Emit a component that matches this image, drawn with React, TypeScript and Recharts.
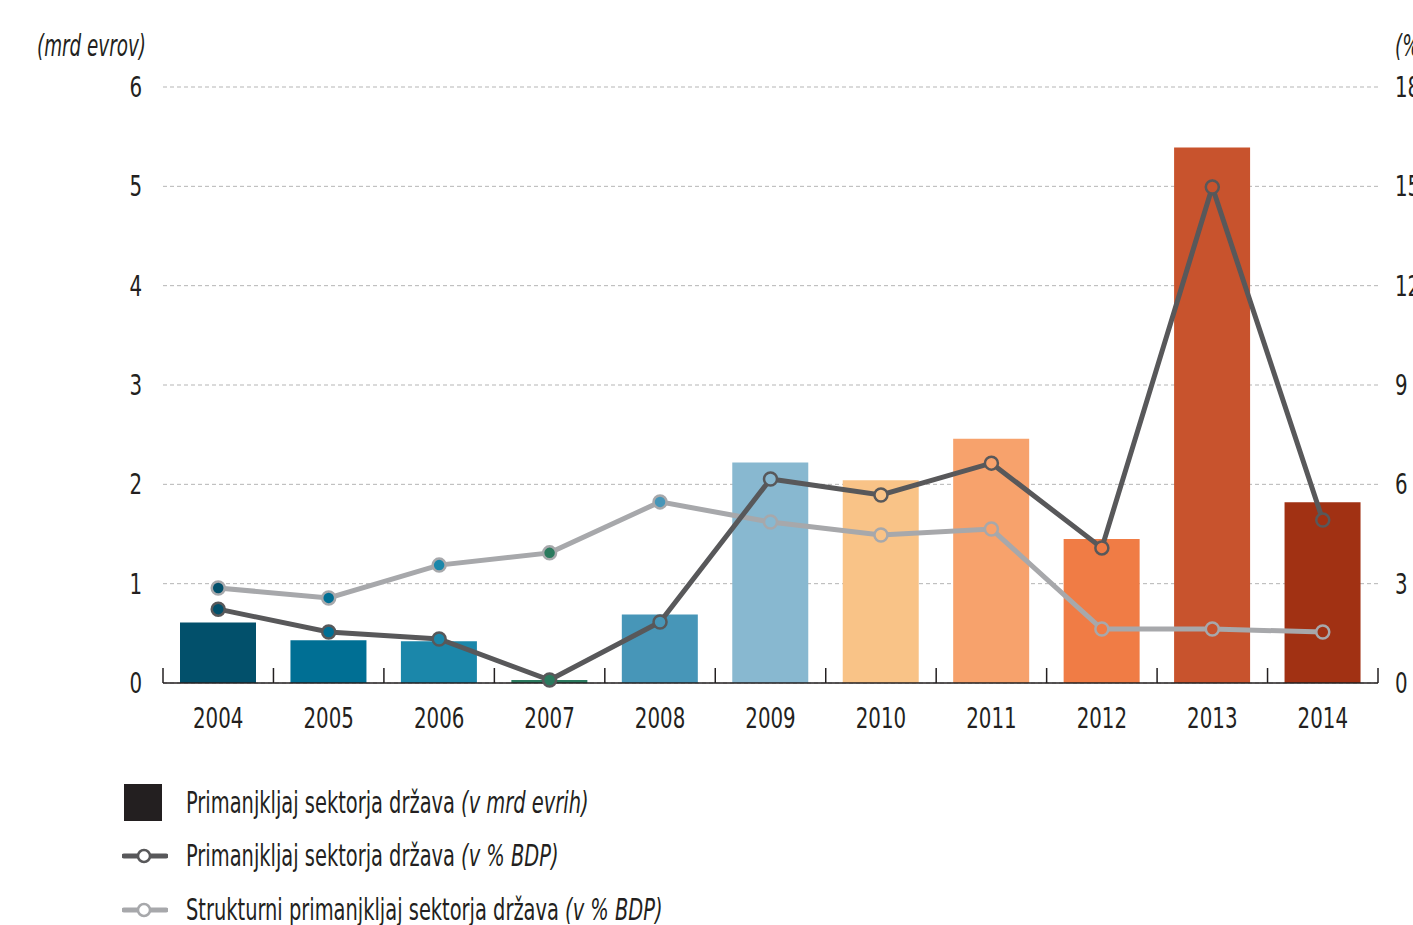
import React from "react";
import {
  ComposedChart,
  Bar,
  Line,
  XAxis,
  YAxis,
  CartesianGrid,
  Cell,
} from "recharts";

// values
const years = ["2004", "2005", "2006", "2007", "2008", "2009", "2010", "2011", "2012", "2013", "2014"];
const deficitBn = [0.61, 0.43, 0.42, 0.03, 0.69, 2.22, 2.04, 2.46, 1.45, 5.39, 1.82];
const deficitGdp = [2.23, 1.54, 1.33, 0.09, 1.84, 6.16, 5.68, 6.64, 4.08, 14.98, 4.92];
const structuralGdp = [2.87, 2.57, 3.56, 3.93, 5.47, 4.86, 4.47, 4.65, 1.63, 1.63, 1.54];
const barColors = [
  "#02506b", "#006f94", "#1b87aa", "#2b7a5e", "#4796b8", "#88b8d0",
  "#f9c387", "#f7a26c", "#f07c45", "#c8532d", "#a13113",
];
const leftTicks = [0, 1, 2, 3, 4, 5, 6];
const rightTicks = [0, 3, 6, 9, 12, 15, 18];

const data = years.map((year, i) => ({
  year,
  bn: deficitBn[i],
  gdp: deficitGdp[i],
  structural: structuralGdp[i],
}));

const FONT = "'Liberation Sans Narrow', 'DejaVu Sans Condensed', 'Open Sans', sans-serif";
const TEXT = "#231f20";
const DARK = "#58585a";
const LIGHT = "#a7a8ab";
const SQUEEZE = 0.76; // the reference uses a condensed face
const LEGEND_SQUEEZE = 0.72;

const CHART_W = 1440;
const LEFT_W = 163;
const RIGHT_W = 62;
const PLOT_W = CHART_W - LEFT_W - RIGHT_W;

// condensed svg text: scale horizontally around its anchor point
const NarrowText = ({ x, y, anchor, children }: any) => (
  <text
    transform={`translate(${x},${y}) scale(${SQUEEZE},1)`}
    textAnchor={anchor}
    fill={TEXT}
    fontSize={29}
    fontFamily={FONT}
  >
    {children}
  </text>
);

const YearTick = (props: any) => {
  const { x, y, payload, index } = props;
  const band = typeof props.width === "number" && props.width > 0 ? props.width / years.length : PLOT_W / years.length;
  return (
    <g>
      <line x1={x - band / 2} x2={x - band / 2} y1={y} y2={y - 15} stroke={TEXT} strokeWidth={1.5} />
      {index === years.length - 1 && (
        <line x1={x + band / 2} x2={x + band / 2} y1={y} y2={y - 15} stroke={TEXT} strokeWidth={1.5} />
      )}
      <NarrowText x={x} y={y + 45} anchor="middle">
        {payload.value}
      </NarrowText>
    </g>
  );
};

const LeftTick = (props: any) => (
  <NarrowText x={props.x} y={props.y + 10} anchor="end">
    {props.payload.value}
  </NarrowText>
);

const RightTick = (props: any) => (
  <NarrowText x={props.x} y={props.y + 10} anchor="start">
    {props.payload.value}
  </NarrowText>
);

const makeDot = (stroke: string) => (props: any) => {
  const { cx, cy, index } = props;
  return (
    <circle
      key={`dot-${stroke}-${index}`}
      cx={cx}
      cy={cy}
      r={6.5}
      fill={barColors[index]}
      stroke={stroke}
      strokeWidth={2.5}
    />
  );
};

const LegendIcon = ({ color }: { color: string }) => (
  <svg width={46} height={16} style={{ display: "block" }}>
    <line x1={2} x2={44} y1={8} y2={8} stroke={color} strokeWidth={5} strokeLinecap="round" />
    <circle cx={22} cy={8} r={6} fill="#fff" stroke={color} strokeWidth={2.5} />
  </svg>
);

const legendRow: React.CSSProperties = {
  position: "absolute",
  left: 122,
  display: "flex",
  alignItems: "center",
  color: TEXT,
  whiteSpace: "nowrap",
};

const narrowSpan: React.CSSProperties = {
  display: "inline-block",
  fontSize: 30,
  transform: `scaleX(${LEGEND_SQUEEZE})`,
  transformOrigin: "left center",
};

export default function App() {
  return (
    <div
      style={{
        position: "absolute",
        left: 0,
        top: 0,
        width: 1413,
        height: 925,
        overflow: "hidden",
        background: "#fff",
        fontFamily: FONT,
      }}
    >
      <div style={{ position: "absolute", left: 37, top: 28, color: TEXT, whiteSpace: "nowrap" }}>
        <span style={{ ...narrowSpan, fontStyle: "italic", transform: "scaleX(0.68)" }}>(mrd evrov)</span>
      </div>
      <div style={{ position: "absolute", left: 1395, top: 28, color: TEXT, whiteSpace: "nowrap" }}>
        <span style={{ ...narrowSpan, fontStyle: "italic", transform: "scaleX(0.68)" }}>(%)</span>
      </div>

      <ComposedChart
        width={CHART_W}
        height={760}
        data={data}
        margin={{ top: 87, right: 0, bottom: 17, left: 0 }}
        style={{ position: "absolute", left: 0, top: 0 }}
      >
        <CartesianGrid
          yAxisId="left"
          vertical={false}
          stroke="#b5b5b5"
          strokeDasharray="4 3"
        />
        <XAxis
          dataKey="year"
          height={60}
          tickSize={0}
          tickMargin={0}
          tickLine={false}
          interval={0}
          axisLine={{ stroke: TEXT, strokeWidth: 1.5 }}
          tick={<YearTick />}
        />
        <YAxis
          yAxisId="left"
          width={LEFT_W}
          domain={[0, 6]}
          ticks={leftTicks}
          axisLine={false}
          tickLine={false}
          tickMargin={15}
          tick={<LeftTick />}
        />
        <YAxis
          yAxisId="right"
          orientation="right"
          width={RIGHT_W}
          domain={[0, 18]}
          ticks={rightTicks}
          axisLine={false}
          tickLine={false}
          tickMargin={11}
          tick={<RightTick />}
        />
        <Bar yAxisId="left" dataKey="bn" barSize={76} isAnimationActive={false}>
          {data.map((d, i) => (
            <Cell key={d.year} fill={barColors[i]} />
          ))}
        </Bar>
        <Line
          yAxisId="right"
          dataKey="structural"
          stroke={LIGHT}
          strokeWidth={5}
          dot={makeDot(LIGHT)}
          activeDot={false}
          isAnimationActive={false}
        />
        <Line
          yAxisId="right"
          dataKey="gdp"
          stroke={DARK}
          strokeWidth={5}
          dot={makeDot(DARK)}
          activeDot={false}
          isAnimationActive={false}
        />
      </ComposedChart>

      <div style={{ ...legendRow, top: 784 }}>
        <div style={{ width: 38, height: 37, background: TEXT, marginLeft: 2, marginRight: 24 }} />
        <span style={narrowSpan}>
          Primanjkljaj sektorja država <i>(v mrd evrih)</i>
        </span>
      </div>
      <div style={{ ...legendRow, top: 838 }}>
        <div style={{ marginRight: 18 }}>
          <LegendIcon color={DARK} />
        </div>
        <span style={narrowSpan}>
          Primanjkljaj sektorja država <i>(v % BDP)</i>
        </span>
      </div>
      <div style={{ ...legendRow, top: 892 }}>
        <div style={{ marginRight: 18 }}>
          <LegendIcon color={LIGHT} />
        </div>
        <span style={narrowSpan}>
          Strukturni primanjkljaj sektorja država <i>(v % BDP)</i>
        </span>
      </div>
    </div>
  );
}
